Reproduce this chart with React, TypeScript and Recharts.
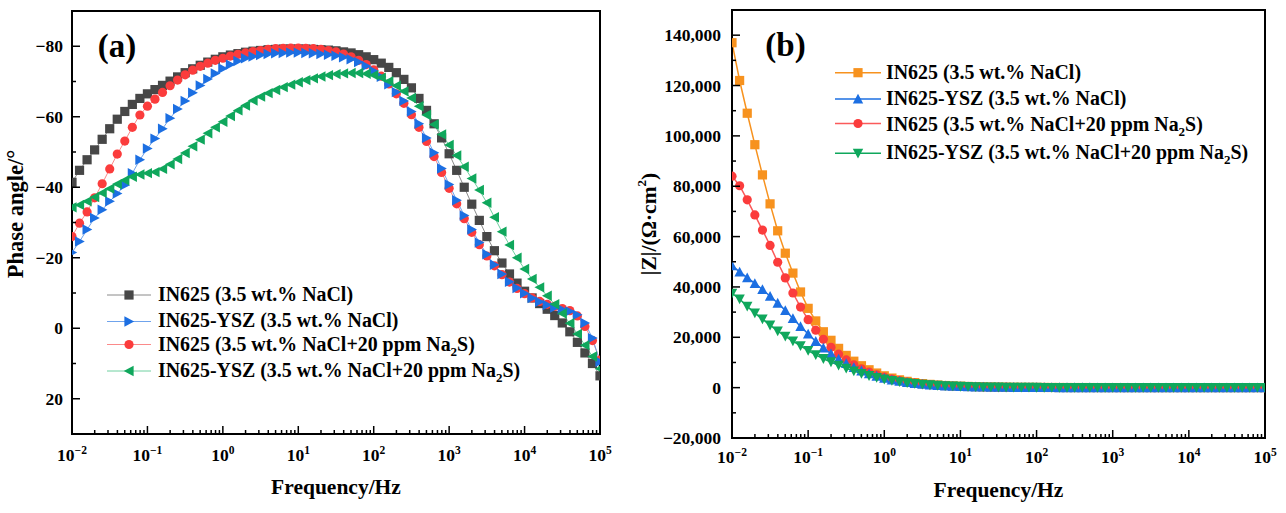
import { LineChart, Line, XAxis, YAxis, ReferenceArea } from 'recharts'

const FONT = '"Liberation Serif", "Times New Roman", Times, serif'

// measuring frequencies (Hz), 10 points per decade
const FREQ = [
  0.01, 0.012589, 0.015849, 0.019953, 0.025119, 0.031623, 0.039811, 0.050119, 0.063096, 0.079433,
  0.1, 0.12589, 0.15849, 0.19953, 0.25119, 0.31623, 0.39811, 0.50119, 0.63096, 0.79433,
  1, 1.2589, 1.5849, 1.9953, 2.5119, 3.1623, 3.9811, 5.0119, 6.3096, 7.9433,
  10, 12.589, 15.849, 19.953, 25.119, 31.623, 39.811, 50.119, 63.096, 79.433,
  100, 125.89, 158.49, 199.53, 251.19, 316.23, 398.11, 501.19, 630.96, 794.33,
  1000, 1258.9, 1584.9, 1995.3, 2511.9, 3162.3, 3981.1, 5011.9, 6309.6, 7943.3,
  10000, 12589, 15849, 19953, 25119, 31623, 39811, 50119, 63096, 79433,
  100000,
]

// (a) phase angle, degrees
const PHASE_IN625 = [
  -41.4, -44.8, -47.8, -50.6, -53.6, -56.6, -59.3, -61.5, -63.5, -65.2,
  -66.5, -67.7, -68.9, -70.1, -71.3, -72.5, -73.6, -74.6, -75.5, -76.3,
  -77.0, -77.5, -77.9, -78.3, -78.6, -78.8, -79.0, -79.1, -79.2, -79.2,
  -79.2, -79.2, -79.1, -79.0, -78.9, -78.7, -78.4, -78.1, -77.6, -77.0,
  -76.2, -75.2, -74.0, -72.5, -70.6, -68.2, -65.2, -61.8, -58.0, -54.0,
  -49.5, -44.8, -40.0, -35.2, -30.6, -26.0, -22.0, -18.5, -15.4, -12.8,
  -10.5, -8.6, -7.0, -5.4, -3.6, -1.5, 1.0, 4.0, 7.0, 10.0,
  13.5,
]
const PHASE_YSZ = [
  -21.5, -24.6, -28.0, -31.3, -33.6, -36.0, -38.2, -40.6, -44.0, -47.8,
  -51.0, -53.8, -56.6, -59.6, -62.2, -64.5, -66.8, -68.9, -70.7, -72.3,
  -73.7, -74.8, -75.8, -76.6, -77.1, -77.5, -77.8, -78.0, -78.1, -78.2,
  -78.2, -78.1, -78.0, -77.8, -77.6, -77.3, -76.9, -76.3, -75.5, -74.4,
  -73.0, -71.3, -69.2, -67.0, -64.5, -61.5, -58.0, -54.0, -49.8, -45.3,
  -40.8, -36.3, -32.0, -28.0, -24.3, -21.0, -18.0, -15.4, -13.2, -11.4,
  -9.9, -8.6, -7.5, -6.6, -5.9, -5.3, -4.8, -3.8, -1.5, 2.8,
  9.5,
]
const PHASE_IN625_S = [
  -26.0, -29.8, -33.0, -37.0, -41.0, -45.2, -49.4, -53.1, -57.0, -60.5,
  -63.0, -65.0, -66.9, -68.8, -70.4, -71.9, -73.2, -74.3, -75.2, -76.0,
  -76.6, -77.2, -77.7, -78.1, -78.5, -78.8, -79.1, -79.3, -79.4, -79.5,
  -79.5, -79.4, -79.3, -79.1, -78.8, -78.4, -77.8, -77.0, -76.0, -74.8,
  -73.3, -71.5, -69.3, -66.5, -63.8, -60.6, -57.0, -53.0, -48.7, -44.2,
  -39.7, -35.3, -31.1, -27.2, -23.7, -20.5, -17.7, -15.2, -13.1, -11.3,
  -9.8, -8.6, -7.6, -6.8, -6.2, -5.6, -5.0, -3.5, -0.5, 3.5,
  9.0,
]
const PHASE_YSZ_S = [
  -34.3, -35.0, -36.0, -37.2, -38.4, -39.6, -40.9, -42.0, -43.0, -43.6,
  -44.0, -44.3, -45.2, -46.5, -48.0, -49.7, -51.6, -53.5, -55.3, -57.0,
  -58.6, -60.2, -61.8, -63.2, -64.6, -65.7, -66.7, -67.6, -68.4, -69.1,
  -69.8, -70.4, -70.9, -71.4, -71.8, -72.1, -72.3, -72.4, -72.4, -72.2,
  -71.8, -71.1, -70.1, -68.8, -67.2, -65.3, -63.0, -60.5, -57.8, -55.0,
  -52.0, -49.0, -45.8, -42.5, -39.2, -35.6, -31.5, -27.4, -23.6, -20.0,
  -16.8, -14.0, -11.6, -9.2, -6.8, -4.2, -1.4, 1.6, 4.8, 8.0,
  11.5,
]

// (b) impedance modulus, ohm·cm2
const Z_IN625 = [
  137000, 122000, 109000, 96500, 84500, 73000, 62300, 53400, 45500, 38000,
  31500, 26500, 22200, 18800, 15600, 12800, 10500, 8700, 7100, 5800,
  4700, 3800, 3100, 2500, 2000, 1600, 1300, 1050, 850, 700,
  580, 480, 400, 330, 275, 230, 190, 158, 132, 110,
  92, 77, 65, 55, 47, 41, 36, 32, 29, 26.5,
  24.5, 23, 21.8, 20.9, 20.2, 19.7, 19.3, 19.0, 18.8, 18.6,
  18.5, 18.4, 18.3, 18.3, 18.2, 18.2, 18.2, 18.1, 18.1, 18.1,
  18.0,
]
const Z_YSZ = [
  48500, 46000, 43700, 41400, 39000, 36300, 33600, 30700, 27500, 24300,
  21300, 18400, 15800, 13500, 11400, 9600, 8000, 6700, 5550, 4600,
  3800, 3100, 2550, 2080, 1700, 1380, 1120, 910, 740, 600,
  490, 400, 330, 272, 225, 187, 156, 130, 109, 92,
  78, 66, 56, 48, 42, 37, 33, 30, 27.5, 25.5,
  24, 22.8, 21.9, 21.2, 20.7, 20.3, 20.0, 19.8, 19.6, 19.5,
  19.4, 19.3, 19.3, 19.2, 19.2, 19.2, 19.1, 19.1, 19.1, 19.1,
  19.0,
]
const Z_IN625_S = [
  84000, 80200, 74600, 68600, 62600, 56500, 49800, 43600, 37600, 32000,
  27000, 22800, 19200, 16000, 13300, 11000, 9100, 7500, 6200, 5100,
  4150, 3400, 2750, 2250, 1800, 1450, 1180, 960, 780, 640,
  520, 430, 355, 295, 245, 205, 170, 142, 118, 99,
  83, 70, 59, 50, 43, 37.5, 33, 29.5, 27, 25,
  23.4, 22.2, 21.3, 20.6, 20.1, 19.7, 19.4, 19.2, 19.0, 18.9,
  18.8, 18.7, 18.6, 18.6, 18.5, 18.5, 18.5, 18.4, 18.4, 18.4,
  18.3,
]
const Z_YSZ_S = [
  37500, 35200, 32300, 29600, 27200, 24800, 22500, 20400, 18500, 16600,
  14700, 13000, 11500, 10200, 8900, 7700, 6600, 5600, 4750, 4000,
  3350, 2800, 2330, 1940, 1600, 1320, 1080, 880, 720, 590,
  480, 392, 322, 265, 219, 182, 152, 127, 107, 90,
  76, 65, 55.5, 48, 42, 37, 33, 30, 27.5, 25.5,
  24, 22.8, 21.9, 21.2, 20.7, 20.3, 20.0, 19.8, 19.6, 19.5,
  19.4, 19.3, 19.3, 19.2, 19.2, 19.1, 19.1, 19.1, 19.0, 19.0,
  19.0,
]

const X_TICKS = [0.01, 0.1, 1, 10, 100, 1000, 10000, 100000]
const X_MINOR = X_TICKS.slice(0, -1).flatMap(d => [2, 3, 4, 5, 6, 7, 8, 9].map(m => +(d * m).toPrecision(3)))
const PHASE_TICKS = [-80, -60, -40, -20, 0, 20]
const PHASE_MINOR = [-70, -50, -30, -10, 10]
const Z_TICKS = [-20000, 0, 20000, 40000, 60000, 80000, 100000, 120000, 140000]
const Z_MINOR = [-10000, 10000, 30000, 50000, 70000, 90000, 110000, 130000]

const LABELS = [
  'IN625 (3.5 wt.% NaCl)',
  'IN625-YSZ (3.5 wt.% NaCl)',
  'IN625 (3.5 wt.% NaCl+20 ppm Na2S)',
  'IN625-YSZ (3.5 wt.% NaCl+20 ppm Na2S)',
]

const phaseRows = FREQ.map((f, i) => ({
  f, s1: PHASE_IN625[i], s2: PHASE_YSZ[i], s3: PHASE_IN625_S[i], s4: PHASE_YSZ_S[i],
}))
const zRows = FREQ.map((f, i) => ({
  f, s1: Z_IN625[i], s2: Z_YSZ[i], s3: Z_IN625_S[i], s4: Z_YSZ_S[i],
}))

type Shape = 'square' | 'circle' | 'right' | 'left' | 'up' | 'down'
interface Serie { key: string; label: string; color: string; line: string; shape: Shape }

const PHASE_SERIES: Serie[] = [
  { key: 's1', label: LABELS[0], color: '#474747', line: '#8a8a8a', shape: 'square' },
  { key: 's2', label: LABELS[1], color: '#1c6fe2', line: '#6fa3ec', shape: 'right' },
  { key: 's3', label: LABELS[2], color: '#fb3c3c', line: '#fb8a8a', shape: 'circle' },
  { key: 's4', label: LABELS[3], color: '#0fa75c', line: '#6fd0a0', shape: 'left' },
]
const Z_SERIES: Serie[] = [
  { key: 's1', label: LABELS[0], color: '#f7921e', line: '#f7921e', shape: 'square' },
  { key: 's2', label: LABELS[1], color: '#1c6fe2', line: '#1c6fe2', shape: 'up' },
  { key: 's3', label: LABELS[2], color: '#fb3c3c', line: '#fb5a5a', shape: 'circle' },
  { key: 's4', label: LABELS[3], color: '#0fa75c', line: '#0fa75c', shape: 'down' },
]

function Marker({ shape, cx, cy, color, r = 4.6 }: { shape: Shape; cx: number; cy: number; color: string; r?: number }) {
  const t = r + 0.6
  switch (shape) {
    case 'square':
      return <rect x={cx - r} y={cy - r} width={2 * r} height={2 * r} fill={color} />
    case 'circle':
      return <circle cx={cx} cy={cy} r={r} fill={color} />
    case 'right':
      return <polygon points={`${cx - r},${cy - t} ${cx + t},${cy} ${cx - r},${cy + t}`} fill={color} />
    case 'left':
      return <polygon points={`${cx + r},${cy - t} ${cx - t},${cy} ${cx + r},${cy + t}`} fill={color} />
    case 'up':
      return <polygon points={`${cx},${cy - t} ${cx + t},${cy + r} ${cx - t},${cy + r}`} fill={color} />
    default:
      return <polygon points={`${cx - t},${cy - r} ${cx + t},${cy - r} ${cx},${cy + t}`} fill={color} />
  }
}

const dotFor = (shape: Shape, color: string) => (p: any) => {
  const { cx, cy, index } = p
  if (typeof cx !== 'number' || typeof cy !== 'number' || isNaN(cx) || isNaN(cy)) return <g key={`d${index}`} />
  return <Marker key={`d${index}`} shape={shape} cx={cx} cy={cy} color={color} />
}

const fmtPhase = (v: number) => (v < 0 ? `−${-v}` : `${v}`)
const fmtZ = (v: number) => {
  const s = Math.abs(v).toLocaleString('en-US')
  return v < 0 ? `−${s}` : s
}

// x tick: inward tick mark (long for decades, short in between) plus 10^n label
function LogTick({ x, y, payload, labelDy }: any) {
  const v = payload.value
  const major = X_TICKS.includes(v)
  const e = Math.round(Math.log10(v))
  return (
    <g>
      <line x1={x} x2={x} y1={y} y2={y - (major ? 8 : 4)} stroke="#000" strokeWidth={1.5} />
      {major && (
        <text x={x} y={y + labelDy} textAnchor="middle" fontFamily={FONT} fontWeight="bold" fontSize={17.5} fill="#000">
          <tspan>10</tspan>
          <tspan dy={-7} fontSize={11.5}>{e < 0 ? `−${-e}` : `${e}`}</tspan>
        </text>
      )}
    </g>
  )
}

function ValueTick({ x, y, payload, fmt, majors, labelDx }: any) {
  const major = majors.includes(payload.value)
  return (
    <g>
      <line x1={x} x2={x + (major ? 8 : 4)} y1={y} y2={y} stroke="#000" strokeWidth={1.5} />
      {major && (
        <text x={x - labelDx} y={y} dy={6} textAnchor="end" fontFamily={FONT} fontWeight="bold" fontSize={17.5} fill="#000">
          {fmt(payload.value)}
        </text>
      )}
    </g>
  )
}

interface PanelProps {
  left: number
  width: number
  top: number
  right: number
  xAxisHeight: number
  yAxisWidth: number
  rows: Record<string, number>[]
  series: Serie[]
  drawOrder: number[]
  yDomain: [number, number]
  yReversed?: boolean
  yTicks: number[]
  yMinor: number[]
  fmtY: (v: number) => string
  yLabelDx: number
  xLabelDy: number
  lineWidth: number
}

const ALL_X_TICKS = [...X_TICKS, ...X_MINOR].sort((a, b) => a - b)

function BodePanel(p: PanelProps) {
  const xDomain: [number, number] = [0.01, 100000]
  const yAll = [...p.yTicks, ...p.yMinor].sort((a, b) => a - b)
  return (
    <div style={{ position: 'absolute', left: p.left, top: 0 }}>
      <LineChart width={p.width} height={513} data={p.rows} margin={{ top: p.top, right: p.right, bottom: 0, left: 0 }}>
        <XAxis
          dataKey="f" type="number" scale="log" domain={xDomain} allowDataOverflow
          ticks={ALL_X_TICKS} interval={0} tickSize={0} tickMargin={0} tickLine={false}
          tick={(t: any) => <LogTick {...t} labelDy={p.xLabelDy} />}
          axisLine={{ stroke: '#000', strokeWidth: 2 }} height={p.xAxisHeight}
        />
        <YAxis
          type="number" domain={p.yDomain} reversed={p.yReversed} allowDataOverflow
          ticks={yAll} interval={0} tickSize={0} tickMargin={0} tickLine={false}
          tick={(t: any) => <ValueTick {...t} fmt={p.fmtY} majors={p.yTicks} labelDx={p.yLabelDx} />}
          axisLine={{ stroke: '#000', strokeWidth: 2 }} width={p.yAxisWidth}
        />
        {p.drawOrder.map(i => {
          const s = p.series[i]
          return (
            <Line
              key={s.key} dataKey={s.key} name={s.label} type="linear"
              stroke={s.line} strokeWidth={p.lineWidth}
              dot={dotFor(s.shape, s.color)} activeDot={false} isAnimationActive={false}
            />
          )
        })}
        <ReferenceArea
          x1={xDomain[0]} x2={xDomain[1]} y1={p.yDomain[0]} y2={p.yDomain[1]}
          fill="none" fillOpacity={0} stroke="#000" strokeWidth={2} ifOverflow="visible"
        />
      </LineChart>
    </div>
  )
}

function SeriesName({ text }: { text: string }) {
  const parts = text.split('Na2S')
  if (parts.length === 1) return <>{text}</>
  return (
    <>
      {parts[0]}Na
      <tspan dy={5} fontSize={13}>2</tspan>
      <tspan dy={-5}>S{parts[1]}</tspan>
    </>
  )
}

function LegendBlock({ series, x1, x2, textX, markY, baseY, lineWidth }: {
  series: Serie[]; x1: number; x2: number; textX: number; markY: number[]; baseY: number[]; lineWidth: number
}) {
  const mx = (x1 + x2) / 2
  return (
    <g>
      {series.map((s, i) => (
        <g key={s.key}>
          <line x1={x1} x2={x2} y1={markY[i]} y2={markY[i]} stroke={s.line} strokeWidth={lineWidth} />
          <Marker shape={s.shape} cx={mx} cy={markY[i]} color={s.color} />
          <text x={textX} y={baseY[i]} fontFamily={FONT} fontWeight="bold" fontSize={19.9} fill="#000">
            <SeriesName text={s.label} />
          </text>
        </g>
      ))}
    </g>
  )
}

export default function App() {
  const title = { fontFamily: FONT, fontWeight: 'bold' as const, fill: '#000' }
  return (
    <div style={{ position: 'absolute', left: 0, top: 0, width: 1286, height: 513, background: '#fff', overflow: 'hidden' }}>
      <BodePanel
        left={0} width={640} top={11} right={40} xAxisHeight={79} yAxisWidth={72}
        rows={phaseRows} series={PHASE_SERIES} drawOrder={[0, 2, 1, 3]}
        yDomain={[-90, 30]} yReversed yTicks={PHASE_TICKS} yMinor={PHASE_MINOR} fmtY={fmtPhase}
        yLabelDx={9} xLabelDy={27} lineWidth={1}
      />
      <BodePanel
        left={640} width={646} top={10} right={21} xAxisHeight={75} yAxisWidth={92}
        rows={zRows} series={Z_SERIES} drawOrder={[0, 2, 1, 3]}
        yDomain={[-20000, 150000]} yTicks={Z_TICKS} yMinor={Z_MINOR} fmtY={fmtZ}
        yLabelDx={11} xLabelDy={25} lineWidth={1.5}
      />
      <svg width={1286} height={513} style={{ position: 'absolute', left: 0, top: 0, pointerEvents: 'none' }}>
        <text x={117} y={57} textAnchor="middle" fontSize={33} {...title}>(a)</text>
        <text x={785.5} y={56} textAnchor="middle" fontSize={33} {...title}>(b)</text>
        <text x={336} y={494} textAnchor="middle" fontSize={21.5} {...title}>Frequency/Hz</text>
        <text x={998.5} y={497} textAnchor="middle" fontSize={21.5} {...title}>Frequency/Hz</text>
        <text x={15} y={214} textAnchor="middle" dominantBaseline="central" fontSize={22.5}
          transform="rotate(-90, 15, 214)" {...title}>Phase angle/°</text>
        <text x={649} y={224} textAnchor="middle" dominantBaseline="central" fontSize={21.5}
          transform="rotate(-90, 649, 224)" {...title}>
          |Z|/(Ω·cm<tspan dy={-8} fontSize={13}>2</tspan><tspan dy={8}>)</tspan>
        </text>
        <LegendBlock
          series={PHASE_SERIES} x1={107} x2={151} textX={158}
          markY={[295, 321.5, 344.5, 371]} baseY={[301, 327, 350.5, 377]} lineWidth={1}
        />
        <LegendBlock
          series={Z_SERIES} x1={835} x2={881} textX={886}
          markY={[72.7, 99, 123.5, 153.3]} baseY={[79, 105, 130.5, 159.3]} lineWidth={1.5}
        />
      </svg>
    </div>
  )
}
